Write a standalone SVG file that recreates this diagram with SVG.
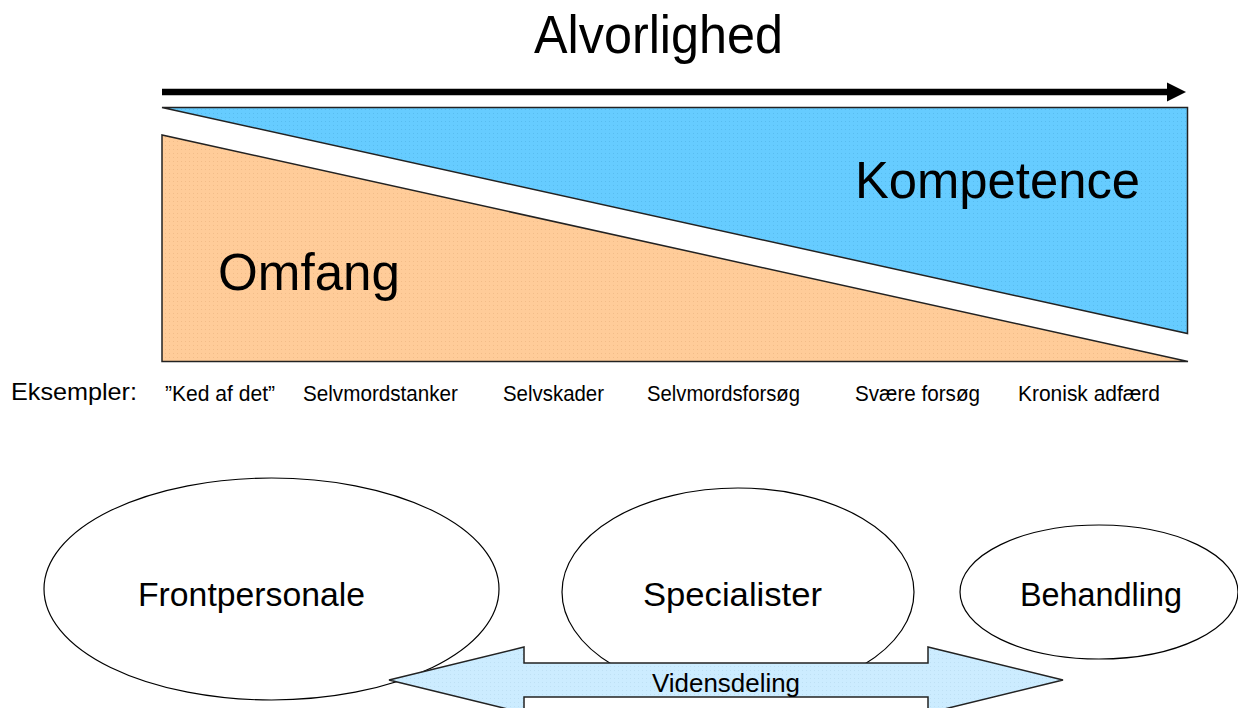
<svg xmlns="http://www.w3.org/2000/svg" width="1238" height="708" viewBox="0 0 1238 708">
<defs>
<pattern id="dotsBlue" width="4" height="4" patternUnits="userSpaceOnUse">
<rect width="4" height="4" fill="#66CCFF"/>
<rect x="1" y="1" width="1" height="1" fill="#58BCEF"/>
</pattern>
<pattern id="dotsOrange" width="4" height="4" patternUnits="userSpaceOnUse">
<rect width="4" height="4" fill="#FFCC99"/>
<rect x="1" y="1" width="1" height="1" fill="#F2BC88"/>
</pattern>
<pattern id="dotsLight" width="4" height="4" patternUnits="userSpaceOnUse">
<rect width="4" height="4" fill="#CCECFF"/>
<rect x="2" y="2" width="1" height="1" fill="#BEE0F4"/>
</pattern>
</defs>
<style>
text{font-family:"Liberation Sans",Arial,sans-serif;fill:#000}
.big{font-size:52px}
.ex{font-size:22px}
.node{font-size:34px}
.ell{fill:#fff;stroke:#000;stroke-width:1.2}
.tri{stroke:#222;stroke-width:1.5;stroke-linejoin:miter}
</style>
<rect width="1238" height="708" fill="#fff"/>

<text x="534" y="53" font-size="54" textLength="249" lengthAdjust="spacingAndGlyphs">Alvorlighed</text>

<g id="axis">
<line x1="162" y1="92" x2="1168" y2="92" stroke="#000" stroke-width="6.5"/>
<path d="M1167,82.5 L1186,92 L1167,101.5 Z" fill="#000"/>
</g>

<g id="kompetence">
<polygon class="tri" points="162,107.5 1187.5,107.5 1187.5,333.5" fill="url(#dotsBlue)"/>
<text class="big" x="855" y="198" textLength="285" lengthAdjust="spacingAndGlyphs">Kompetence</text>
</g>

<g id="omfang">
<polygon class="tri" points="162,135 162,361.5 1188,361.5" fill="url(#dotsOrange)"/>
<text class="big" x="218" y="290" textLength="182" lengthAdjust="spacingAndGlyphs">Omfang</text>
</g>

<g id="eksempler">
<text x="11" y="400" font-size="24" textLength="126" lengthAdjust="spacingAndGlyphs">Eksempler:</text>
<text class="ex" x="165" y="401" textLength="110" lengthAdjust="spacingAndGlyphs">”Ked af det”</text>
<text class="ex" x="303" y="401" textLength="155" lengthAdjust="spacingAndGlyphs">Selvmordstanker</text>
<text class="ex" x="503" y="401" textLength="101" lengthAdjust="spacingAndGlyphs">Selvskader</text>
<text class="ex" x="647" y="401" textLength="153" lengthAdjust="spacingAndGlyphs">Selvmordsforsøg</text>
<text class="ex" x="855" y="401" textLength="125" lengthAdjust="spacingAndGlyphs">Svære forsøg</text>
<text class="ex" x="1018" y="401" textLength="142" lengthAdjust="spacingAndGlyphs">Kronisk adfærd</text>
</g>

<g id="frontpersonale">
<ellipse class="ell" cx="271.5" cy="589" rx="227.5" ry="111"/>
<text class="node" x="138" y="606" textLength="227" lengthAdjust="spacingAndGlyphs">Frontpersonale</text>
</g>

<g id="specialister">
<ellipse class="ell" cx="738" cy="592" rx="176" ry="104"/>
<text class="node" x="643" y="606" textLength="179" lengthAdjust="spacingAndGlyphs">Specialister</text>
</g>

<g id="behandling">
<ellipse class="ell" cx="1099" cy="592" rx="139" ry="67"/>
<text class="node" x="1020" y="606" textLength="162" lengthAdjust="spacingAndGlyphs">Behandling</text>
</g>

<g id="connectors">
<polygon points="389,680 524,647 524,663 928,663 928,647 1063,680 928,713 928,697 524,697 524,713" fill="url(#dotsLight)" stroke="#222" stroke-width="1.5"/>
<text x="652" y="692" font-size="26" textLength="148" lengthAdjust="spacingAndGlyphs">Vidensdeling</text>
</g>
</svg>
